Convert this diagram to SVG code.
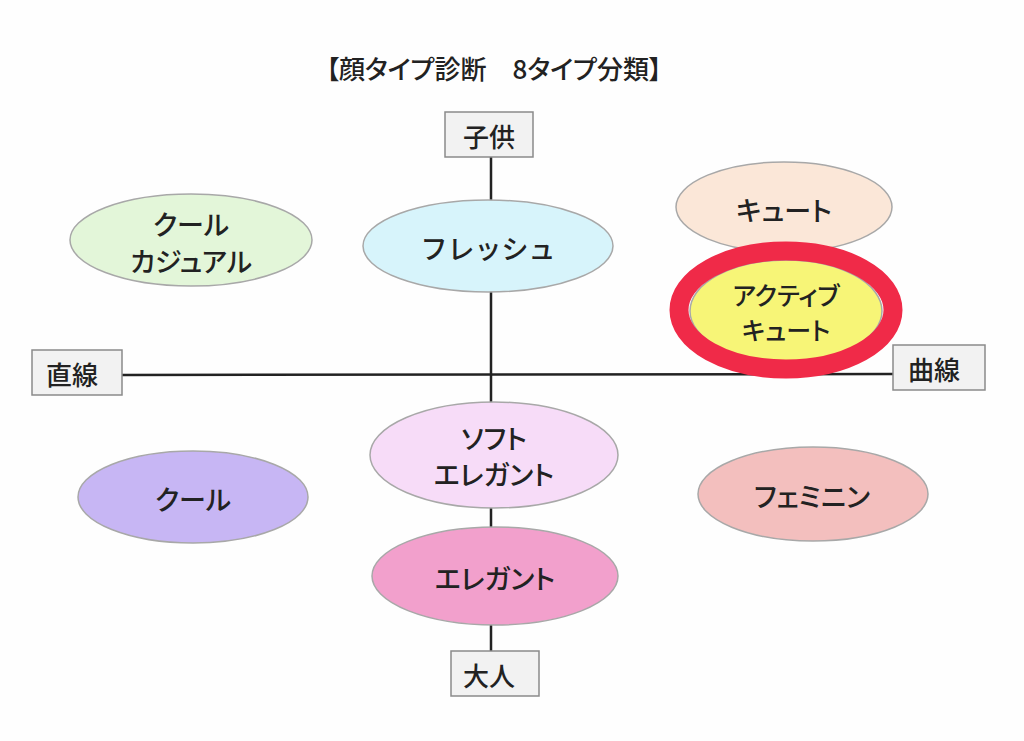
<svg xmlns="http://www.w3.org/2000/svg" width="1024" height="741" viewBox="0 0 1024 741">
<style>
text{font-family:"Noto Sans CJK JP","Noto Sans CJK SC",sans-serif;fill:#222;text-anchor:middle;dominant-baseline:central;font-weight:500;font-feature-settings:"palt"}
.node{stroke:#a8a8a8;stroke-width:1.5}
.box{fill:#f2f2f2;stroke:#8a8a8a;stroke-width:1.5}
.lbl{font-size:27px}
.axis{stroke:#222;stroke-width:2.5;fill:none}
</style>
<rect width="1024" height="741" fill="#fefefe"/>
<text id="title" x="494" y="67" font-size="26">【顔タイプ診断　8タイプ分類】</text>
<g id="connectors">
<line class="axis" x1="491" y1="157" x2="491" y2="652"/>
<line class="axis" x1="122" y1="375" x2="893" y2="374" stroke-width="3"/>
</g>
<g id="kodomo"><rect class="box" x="445" y="112" width="88" height="45"/><text x="489" y="135" font-size="26">子供</text></g>
<g id="chokusen"><rect class="box" x="32" y="350" width="90" height="45"/><text x="72" y="373" font-size="26">直線</text></g>
<g id="kyokusen"><rect class="box" x="893" y="345" width="92" height="45"/><text x="934" y="368" font-size="26">曲線</text></g>
<g id="otona"><rect class="box" x="451" y="651" width="88" height="45"/><text x="489" y="674" font-size="26">大人</text></g>
<g id="cool-casual"><ellipse class="node" cx="191" cy="240" rx="121" ry="46" fill="#e3f6d9"/><text class="lbl" x="191" y="223">クール</text><text class="lbl" x="191" y="260">カジュアル</text></g>
<g id="fresh"><ellipse class="node" cx="488" cy="246" rx="125" ry="46" fill="#d7f4fb"/><text class="lbl" x="488" y="247" style="font-feature-settings:normal">フレッシュ</text></g>
<g id="cute"><ellipse class="node" cx="784" cy="207" rx="108" ry="45" fill="#fbe7d8"/><text class="lbl" x="784" y="209">キュート</text></g>
<g id="active-cute"><ellipse class="node" cx="786" cy="311" rx="96" ry="51" fill="#f7f577"/><ellipse cx="786" cy="310" rx="107" ry="59" fill="none" stroke="#f02a48" stroke-width="19"/><text x="786" y="294" font-size="25">アクティブ</text><text x="786" y="329" font-size="25">キュート</text></g>
<g id="soft-elegant"><ellipse class="node" cx="494" cy="455" rx="124" ry="53" fill="#f7dcf8"/><text class="lbl" x="494" y="437">ソフト</text><text class="lbl" x="494" y="473">エレガント</text></g>
<g id="cool"><ellipse class="node" cx="193" cy="497" rx="115" ry="46" fill="#c7b6f4"/><text class="lbl" x="193" y="498">クール</text></g>
<g id="feminine"><ellipse class="node" cx="813" cy="494" rx="115" ry="47" fill="#f3bfbe"/><text class="lbl" x="812" y="495">フェミニン</text></g>
<g id="elegant"><ellipse class="node" cx="495" cy="576" rx="123" ry="49" fill="#f2a0cc"/><text class="lbl" x="495" y="577">エレガント</text></g>
</svg>
